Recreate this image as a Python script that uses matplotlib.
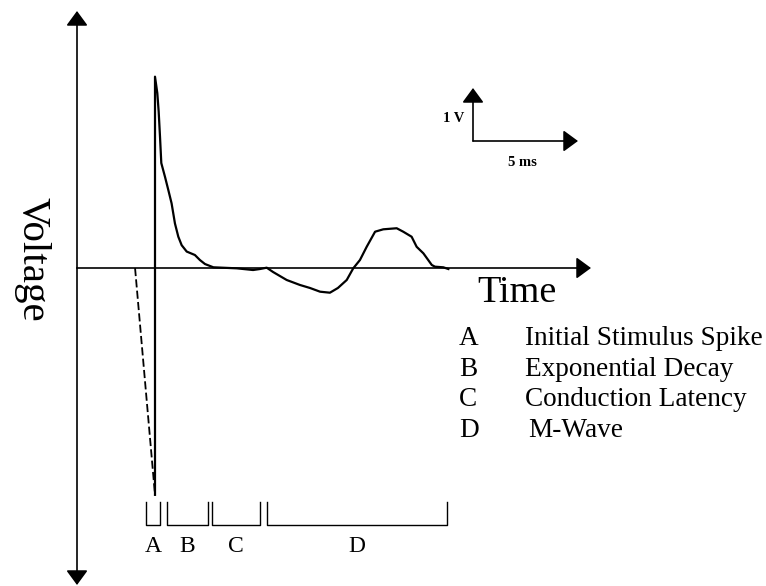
import matplotlib
matplotlib.use("Agg")
import matplotlib.pyplot as plt

# ---- data (time in ms relative to stimulus, voltage in V) ----
trace_t = [0.0, 0.0, 0.11, 0.175, 0.238, 0.30, 0.476, 0.635, 0.79, 0.95, 1.11,
           1.27, 1.51, 1.90, 2.14, 2.38, 2.78, 3.89, 4.67, 5.0, 5.32, 5.62, 6.27,
           6.90, 7.38, 7.86, 8.33, 8.71, 9.13, 9.44, 9.76, 10.08, 10.48, 10.87,
           11.51, 11.82, 12.22, 12.46, 12.78, 13.18, 13.33, 13.73, 13.97]
trace_v = [-4.28, 3.61, 3.30, 2.95, 2.48, 1.98, 1.72, 1.47, 1.22, 0.84, 0.59,
           0.43, 0.31, 0.245, 0.15, 0.075, 0.013, -0.006, -0.038, -0.019, 0.006,
           -0.075, -0.226, -0.32, -0.377, -0.447, -0.466, -0.377, -0.226, -0.006,
           0.151, 0.40, 0.685, 0.73, 0.75, 0.685, 0.59, 0.40, 0.277, 0.057,
           0.025, 0.013, -0.019]
stim_t = [-0.95, 0.0]
stim_v = [0.0, -4.28]

phase_labels = ["A", "B", "C", "D"]
phase_start = [-0.43, 0.56, 2.70, 5.32]
phase_end = [0.24, 2.54, 5.00, 13.89]
phase_names = ["Initial Stimulus Spike", "Exponential Decay",
               "Conduction Latency", "M-Wave"]

scale_ms = 5
scale_v = 1

# ---- figure in pixel-like frame ----
W, H = 766, 586
PX_PER_MS, PX_PER_V = 21.0, 53.0
X0, Y0 = 155.0, 268.0  # pixel position of t=0, v=0

def T(px):
    return (px - X0) / PX_PER_MS

def V(py):
    return (Y0 - py) / PX_PER_V

fig = plt.figure(figsize=(W / 100, H / 100), dpi=100)
ax = fig.add_axes([0, 0, 1, 1])
ax.set_xlim(T(0), T(W))
ax.set_ylim(V(H), V(0))
ax.axis("off")

serif = ["Liberation Serif", "DejaVu Serif"]
arrow = dict(arrowstyle="-|>,head_length=0.45,head_width=0.33", color="black",
             lw=1.2, mutation_scale=20, shrinkA=0, shrinkB=0)

# axes with arrows
ax.annotate("", xy=(T(77), V(11)), xytext=(T(77), 0), arrowprops=arrow)
ax.annotate("", xy=(T(77), V(585)), xytext=(T(77), 0), arrowprops=arrow)
ax.annotate("", xy=(T(591), 0), xytext=(T(77), 0), arrowprops=arrow)

# trace
ax.plot(stim_t, stim_v, color="black", lw=1.3, linestyle=(0, (4.5, 1.8)))
ax.plot(trace_t, trace_v, color="black", lw=1.6, solid_joinstyle="round")

# scale bar
cx, cy = T(473), V(141)
ax.annotate("", xy=(cx, cy + scale_v), xytext=(cx, cy), arrowprops=arrow)
ax.annotate("", xy=(cx + scale_ms, cy), xytext=(cx, cy), arrowprops=arrow)
ax.text(T(464), V(119), "1 V", ha="right", va="center", fontsize=10.5,
        fontweight="bold", family=serif)
ax.text(T(522), V(162), "5 ms", ha="center", va="center", fontsize=10.5,
        fontweight="bold", family=serif)

# axis labels
ax.text(T(32), V(259), "Voltage", rotation=-90, ha="center", va="center",
        fontsize=29.5, family=serif)
ax.text(T(477), V(302), "Time", ha="left", va="baseline", fontsize=27.5,
        family=serif)

# brackets
yb_top, yb_bot = V(502), V(525)
for lab, s, e in zip(phase_labels, phase_start, phase_end):
    ax.plot([s, s, e, e], [yb_top, yb_bot, yb_bot, yb_top], color="black", lw=1.0)
    ax.text((s + e) / 2, V(552), lab, ha="center", va="baseline", fontsize=17,
            family=serif)

# legend
baselines = [345, 376, 406, 437]
for lab, name, yb in zip(phase_labels, phase_names, baselines):
    ax.text(T(459), V(yb), lab, ha="left", va="baseline", fontsize=19.6,
            family=serif)
    ax.text(T(525 if lab != "D" else 528), V(yb), name, ha="left",
            va="baseline", fontsize=19.6, family=serif)

fig.savefig("out.png", dpi=100)
